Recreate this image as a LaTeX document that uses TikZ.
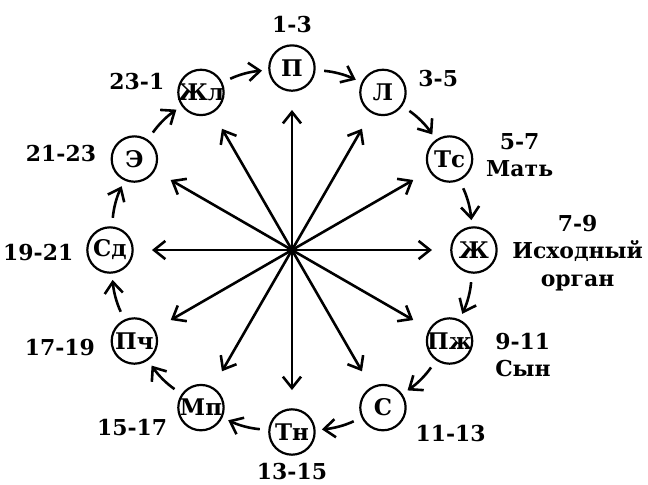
\documentclass[tikz,border=0pt]{standalone}
\usepackage{fontspec}
\setmainfont{DejaVu Serif}
\usetikzlibrary{arrows.meta, positioning}

\begin{document}
\begin{tikzpicture}[
    sign/.style={draw, circle, line width=1.1pt, minimum size=0.8cm, inner sep=-1.5pt, font=\bfseries\fontsize{11.5}{13}\selectfont},
    hours/.style={inner sep=0pt, align=center, font=\bfseries\fontsize{11}{13.8}\selectfont},
    flow/.style={-{Straight Barb[length=0.2cm, width=0.32cm]}, line width=1.3pt, shorten <=0.15cm, shorten >=0.11cm, bend left=10},
    ray/.style={{Straight Barb[length=0.2cm, width=0.32cm]}-{Straight Barb[length=0.2cm, width=0.32cm]}, line width=1.3pt}
  ]
    \useasboundingbox (-5.15,-4.13) rectangle (6.28,4.41);

    % Nodes (ring)
    \node[sign] (p)   at (90:3.21)   {П};
    \node[sign] (l)   at (60:3.21)   {Л};
    \node[sign] (tc)  at (30:3.21)   {Тс};
    \node[sign] (zh)  at (0:3.21)    {Ж};
    \node[sign] (pzh) at (-30:3.21)  {Пж};
    \node[sign] (s)   at (-60:3.21)  {С};
    \node[sign] (tn)  at (-90:3.21)  {Тн};
    \node[sign] (mp)  at (-120:3.21) {Мп};
    \node[sign] (pch) at (-150:3.21) {Пч};
    \node[sign] (sd)  at (180:3.21)  {Сд};
    \node[sign] (e)   at (150:3.21)  {Э};
    \node[sign] (zhl) at (120:3.21)  {Жл};

    % Labels
    \node[hours, above=0.2cm of p] (lp) {1-3};
    \node[hours, right=0.2cm of l, yshift=0.25cm] (ll) {3-5};
    \node[hours, right=0.22cm of tc, yshift=0.07cm] (ltc) {5-7\\Мать};
    \node[hours, right=0.25cm of zh, yshift=-0.05cm] (lzh) {7-9\\Исходный\\орган};
    \node[hours, align=left, right=0.38cm of pzh, yshift=-0.25cm] (lpzh) {9-11\\Сын};
    \node[hours, right=0.15cm of s, yshift=-0.46cm] (ls) {11-13};
    \node[hours, below=0.13cm of tn] (ltn) {13-15};
    \node[hours, left=0.17cm of mp, yshift=-0.35cm] (lmp) {15-17};
    \node[hours, left=0.27cm of pch, yshift=-0.12cm] (lpch) {17-19};
    \node[hours, left=0.22cm of sd, yshift=-0.04cm] (lsd) {19-21};
    \node[hours, left=0.25cm of e, yshift=0.1cm] (le) {21-23};
    \node[hours, left=0.22cm of zhl, yshift=0.2cm] (lzhl) {23-1};

    % Ray ends
    \coordinate (o) at (0,0);
    \coordinate (rp)   at (90:2.47);
    \coordinate (rl)   at (60:2.47);
    \coordinate (rtc)  at (30:2.47);
    \coordinate (rzh)  at (0:2.47);
    \coordinate (rpzh) at (-30:2.47);
    \coordinate (rs)   at (-60:2.47);
    \coordinate (rtn)  at (-90:2.47);
    \coordinate (rmp)  at (-120:2.47);
    \coordinate (rpch) at (-150:2.47);
    \coordinate (rsd)  at (180:2.47);
    \coordinate (re)   at (150:2.47);
    \coordinate (rzhl) at (120:2.47);

    % Connections
    \draw[flow] (p) to (l);
    \draw[flow] (l) to (tc);
    \draw[flow] (tc) to (zh);
    \draw[flow] (zh) to (pzh);
    \draw[flow] (pzh) to (s);
    \draw[flow] (s) to (tn);
    \draw[flow] (tn) to (mp);
    \draw[flow] (mp) to (pch);
    \draw[flow] (pch) to (sd);
    \draw[flow] (sd) to (e);
    \draw[flow] (e) to (zhl);
    \draw[flow] (zhl) to (p);

    \draw[ray] (rp) -- (rtn);
    \draw[ray] (rl) -- (rmp);
    \draw[ray] (rtc) -- (rpch);
    \draw[ray] (rzh) -- (rsd);
    \draw[ray] (rpzh) -- (re);
    \draw[ray] (rs) -- (rzhl);

  \end{tikzpicture}
\end{document}
